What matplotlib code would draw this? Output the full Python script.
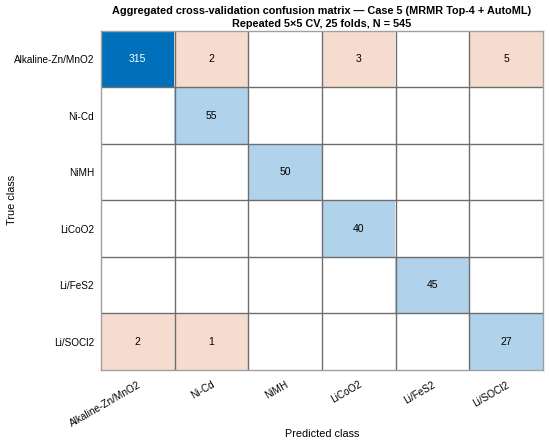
import numpy as np
import matplotlib
matplotlib.use('Agg')
import matplotlib.pyplot as plt

plt.rcParams['font.family'] = ['Liberation Sans', 'DejaVu Sans']

# 类别与混淆矩阵（行：真实类别，列：预测类别）
classes = ['Alkaline-Zn/MnO2', 'Ni-Cd', 'NiMH', 'LiCoO2', 'Li/FeS2', 'Li/SOCl2']
counts = np.array([
    [315, 2, 0, 3, 0, 5],
    [0, 55, 0, 0, 0, 0],
    [0, 0, 50, 0, 0, 0],
    [0, 0, 0, 40, 0, 0],
    [0, 0, 0, 0, 45, 0],
    [2, 1, 0, 0, 0, 27],
])

title = ('Aggregated cross-validation confusion matrix \u2014 Case 5 (MRMR Top-4 + AutoML)\n'
         'Repeated 5\u00d75 CV, 25 folds, N = 545')

dark_blue = np.array([0, 112, 187]) / 255
light_blue = np.array([176, 210, 235]) / 255
salmon = np.array([246, 220, 207]) / 255
white = np.array([1.0, 1.0, 1.0])

n = len(classes)
rgb = np.ones((n, n, 3))
for i in range(n):
    for j in range(n):
        v = counts[i, j]
        if v == 0:
            rgb[i, j] = white
        elif i == j:
            rgb[i, j] = dark_blue if v == counts.max() else light_blue
        else:
            rgb[i, j] = salmon

fig = plt.figure(figsize=(5.5, 4.42), dpi=100)
ax = fig.add_axes([0.1836, 0.1633, 0.8034, 0.7666])
ax.imshow(rgb, aspect='auto', interpolation='nearest')

for i in range(n):
    for j in range(n):
        v = counts[i, j]
        if v == 0:
            continue
        col = 'white' if v == counts.max() else 'black'
        ax.text(j, i, str(v), ha='center', va='center', fontsize=7.5, color=col)

# 网格线
for k in range(1, n):
    ax.axhline(k - 0.5, color='#6e6e6e', lw=1.0)
    ax.axvline(k - 0.5, color='#6e6e6e', lw=1.0)
for s in ax.spines.values():
    s.set_color('#a0a0a0')
    s.set_linewidth(1.0)

ax.set_xticks(range(n))
ax.set_yticks(range(n))
ax.set_xticklabels(classes, rotation=30, ha='right', rotation_mode='anchor', fontsize=7.2)
ax.set_yticklabels(classes, fontsize=7.2)
ax.tick_params(axis='x', length=0, pad=7)
ax.tick_params(axis='y', length=0, pad=5)
ax.set_xlabel('Predicted class', fontsize=7.8)
ax.set_ylabel('True class', fontsize=7.8)
ax.xaxis.set_label_coords(0.5, -0.175)
ax.yaxis.set_label_coords(-0.19, 0.5)
ax.set_title(title, fontsize=7.8, fontweight='bold', pad=3, linespacing=1.3)

fig.savefig('out.png', dpi=100)
